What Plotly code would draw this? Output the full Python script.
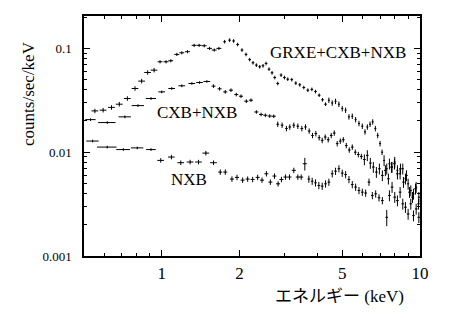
import plotly.graph_objects as go

# ---- data ----
grxe_e = [0.551, 0.593, 0.639, 0.685, 0.736, 0.788, 0.836, 0.882, 0.934, 0.985,
          1.039, 1.084, 1.144, 1.196, 1.258, 1.335, 1.396, 1.460, 1.532, 1.597,
          1.665, 1.752, 1.831, 1.898, 1.967, 2.045, 2.120, 2.190, 2.256, 2.325,
          2.395, 2.467, 2.535, 2.603, 2.674, 2.739, 2.813, 2.898, 2.986, 3.076,
          3.188, 3.305, 3.424, 3.549, 3.679, 3.813, 3.939, 4.070, 4.194, 4.308,
          4.438, 4.572, 4.710, 4.853, 5.000, 5.152, 5.307, 5.468, 5.633, 5.804,
          5.979, 6.124, 6.253, 6.406, 6.559, 6.717, 6.859, 7.004, 7.131, 7.260,
          7.434, 7.614, 7.795, 7.984, 8.177, 8.375, 8.577, 8.783, 8.995, 9.213,
          9.435, 9.663, 9.897]
grxe_r = [0.0250, 0.0254, 0.0270, 0.0290, 0.0329, 0.0411, 0.0484, 0.0586, 0.0617, 0.0743,
          0.0743, 0.0760, 0.0875, 0.0907, 0.0929, 0.107, 0.107, 0.106, 0.100, 0.0964,
          0.100, 0.116, 0.120, 0.118, 0.109, 0.0964, 0.0875, 0.0780, 0.0727, 0.0690,
          0.0665, 0.0680, 0.0716, 0.0631, 0.0582, 0.0524, 0.0459, 0.0553, 0.0524, 0.0505,
          0.0500, 0.0463, 0.0446, 0.0420, 0.0396, 0.0403, 0.0384, 0.0354, 0.0320, 0.0290,
          0.0317, 0.0298, 0.0309, 0.0290, 0.0263, 0.0254, 0.0219, 0.0222, 0.0206, 0.0189,
          0.0178, 0.0157, 0.0175, 0.0186, 0.0196, 0.0169, 0.0145, 0.0121, 0.0100, 0.00834,
          0.00693, 0.00774, 0.00719, 0.00804, 0.00668, 0.00620, 0.00693, 0.00555, 0.00496, 0.00428,
          0.00397, 0.00461, 0.00369]
grxe_xf = [0.03, 0.03, 0.03, 0.03, 0.03, 0.03, 0.03, 0.03, 0.03,
           0.022, 0.022, 0.022, 0.022, 0.022, 0.022, 0.022, 0.022, 0.022, 0.022, 0.022, 0.022,
           0.012, 0.012, 0.012, 0.012, 0.012, 0.012, 0.012, 0.012, 0.012, 0.012,
           0.012, 0.012, 0.012, 0.012, 0.012, 0.012, 0.012, 0.012, 0.012, 0.012,
           0.012, 0.012, 0.012, 0.012, 0.012, 0.012, 0.012, 0.012, 0.012,
           0.009, 0.009, 0.009, 0.009, 0.009, 0.009, 0.009, 0.009, 0.009, 0.009,
           0.009, 0.009, 0.009, 0.009, 0.009, 0.009, 0.009, 0.009, 0.009,
           0.009, 0.009, 0.009, 0.009, 0.009, 0.009, 0.009, 0.009, 0.009, 0.009,
           0.009, 0.009, 0.009, 0.009]
grxe_yf = [0.05, 0.05, 0.05, 0.05, 0.05, 0.05, 0.05, 0.05, 0.05,
           0.035, 0.035, 0.035, 0.035, 0.035, 0.035, 0.035, 0.035, 0.035, 0.035, 0.035, 0.035,
           0.04, 0.04, 0.04, 0.04, 0.04, 0.04, 0.04, 0.04, 0.04, 0.04,
           0.04, 0.04, 0.04, 0.04, 0.04, 0.04, 0.04, 0.04, 0.04, 0.04,
           0.04, 0.04, 0.04, 0.04, 0.04, 0.04, 0.04, 0.04, 0.04,
           0.06, 0.06, 0.06, 0.06, 0.06, 0.06, 0.06, 0.06, 0.06, 0.06,
           0.06, 0.06, 0.06, 0.06, 0.06, 0.06, 0.06, 0.06, 0.06,
           0.12, 0.12, 0.12, 0.12, 0.12, 0.12, 0.12, 0.12, 0.12, 0.12,
           0.12, 0.12, 0.12, 0.12]

cxb_e = [0.530, 0.615, 0.720, 0.809, 0.909, 1.000, 1.093, 1.196, 1.308, 1.401,
         1.495, 1.587, 1.675, 1.762, 1.854, 1.944, 2.027, 2.126, 2.216, 2.325,
         2.424, 2.519, 2.619, 2.715, 2.813, 2.924, 3.040, 3.132, 3.246, 3.365,
         3.487, 3.603, 3.723, 3.835, 3.951, 4.070, 4.181, 4.295, 4.412, 4.532,
         4.656, 4.781, 4.913, 5.046, 5.183, 5.323, 5.468, 5.616, 5.771, 5.928,
         6.090, 6.253, 6.423, 6.597, 6.779, 6.963, 7.150, 7.345, 7.545, 7.752,
         7.962, 8.177, 8.401, 8.630, 8.862, 9.104, 9.352, 9.606, 9.867]
cxb_r = [0.0206, 0.0193, 0.0219, 0.0281, 0.0329, 0.0381, 0.0411, 0.0436, 0.0459, 0.0469,
         0.0480, 0.0433, 0.0408, 0.0381, 0.0396, 0.0359, 0.0346, 0.0310, 0.0317, 0.0244,
         0.0231, 0.0227, 0.0223, 0.0222, 0.0186, 0.0182, 0.0169, 0.0175, 0.0182, 0.0178,
         0.0169, 0.0175, 0.0160, 0.0145, 0.0151, 0.0138, 0.0130, 0.0140, 0.0132, 0.0145,
         0.0153, 0.0121, 0.0128, 0.0132, 0.0116, 0.0105, 0.0112, 0.0100, 0.0095, 0.0091,
         0.00850, 0.00932, 0.00786, 0.00719, 0.00643, 0.00693, 0.00597, 0.00668, 0.00555, 0.00719,
         0.00774, 0.00620, 0.00693, 0.00515, 0.00597, 0.00412, 0.00369, 0.00444, 0.00318]
cxb_xf = [0.046, 0.077, 0.055, 0.055, 0.046,
          0.03, 0.03, 0.03, 0.03, 0.03, 0.03,
          0.018, 0.018, 0.018, 0.018, 0.018, 0.018, 0.018, 0.018, 0.018, 0.018, 0.018, 0.018, 0.018,
          0.012, 0.012, 0.012, 0.012, 0.012, 0.012, 0.012, 0.012, 0.012, 0.012,
          0.012, 0.012, 0.012, 0.012, 0.012, 0.012, 0.012, 0.012, 0.012, 0.012,
          0.012, 0.012, 0.012, 0.012, 0.012, 0.012, 0.012, 0.012, 0.012, 0.012,
          0.012, 0.012, 0.012, 0.012, 0.012, 0.012, 0.012, 0.012, 0.012, 0.012,
          0.012, 0.012, 0.012, 0.012, 0.012]
cxb_yf = [0.03, 0.03, 0.03, 0.03, 0.03, 0.03, 0.03, 0.03, 0.03, 0.03, 0.03,
          0.04, 0.04, 0.04, 0.04, 0.04, 0.04, 0.04, 0.04, 0.04, 0.04, 0.04, 0.04, 0.04,
          0.06, 0.06, 0.06, 0.06, 0.06, 0.06, 0.06, 0.06, 0.06, 0.06,
          0.06, 0.06, 0.06, 0.06, 0.06, 0.06, 0.06, 0.06, 0.06, 0.06,
          0.06, 0.06, 0.06, 0.06, 0.06, 0.06,
          0.12, 0.12, 0.12, 0.12, 0.12, 0.12, 0.12, 0.12, 0.12, 0.12,
          0.12, 0.12, 0.12, 0.12, 0.12, 0.12, 0.12, 0.12, 0.12]

nxb_e = [0.540, 0.615, 0.710, 0.804, 0.909, 0.991, 1.090, 1.185, 1.288, 1.388,
         1.482, 1.587, 1.685, 1.762, 1.870, 1.956, 2.057, 2.151, 2.249, 2.352,
         2.445, 2.542, 2.634, 2.732, 2.822, 2.907, 3.013, 3.123, 3.246, 3.365,
         3.467, 3.581, 3.712, 3.824, 3.939, 4.058, 4.181, 4.308, 4.438, 4.572,
         4.710, 4.853, 5.000, 5.152, 5.307, 5.468, 5.633, 5.804, 5.979, 6.160,
         6.346, 6.538, 6.736, 6.939, 7.150, 7.434, 7.614, 7.795, 7.984, 8.177,
         8.375, 8.577, 8.783, 8.995, 9.213, 9.435, 9.663, 9.897]
nxb_r = [0.0128, 0.0112, 0.0106, 0.0110, 0.0106, 0.00834, 0.00898, 0.00792, 0.00804, 0.00804,
         0.00980, 0.00792, 0.00643, 0.00643, 0.00551, 0.00572, 0.00538, 0.00551, 0.00546, 0.00572,
         0.00538, 0.00620, 0.00515, 0.00589, 0.00496, 0.00546, 0.00576, 0.00576, 0.00668, 0.00576,
         0.00576, 0.00774, 0.00551, 0.00526, 0.00507, 0.00478, 0.00471, 0.00496, 0.00515, 0.00620,
         0.00656, 0.00693, 0.00629, 0.00609, 0.00546, 0.00488, 0.00461, 0.00428, 0.00412, 0.00404,
         0.00515, 0.00383, 0.00397, 0.00364, 0.00342, 0.00236, 0.00383, 0.00461, 0.00369, 0.00342,
         0.00412, 0.00318, 0.00295, 0.00254, 0.00318, 0.00245, 0.00284, 0.00236]
nxb_xf = [0.055, 0.087, 0.061, 0.055, 0.043,
          0.03, 0.03, 0.03, 0.03, 0.03, 0.03, 0.03,
          0.018, 0.018, 0.018, 0.018, 0.018, 0.018, 0.018, 0.018, 0.018, 0.018,
          0.018, 0.018, 0.018, 0.018, 0.018, 0.018, 0.018, 0.018, 0.018, 0.018,
          0.012, 0.012, 0.012, 0.012, 0.012, 0.012, 0.012, 0.012, 0.012, 0.012,
          0.012, 0.012, 0.012, 0.012, 0.012, 0.012, 0.012, 0.012, 0.012, 0.012,
          0.012, 0.012, 0.012, 0.012, 0.012, 0.012, 0.012, 0.012, 0.012, 0.012,
          0.012, 0.012, 0.012, 0.012, 0.012, 0.012]
nxb_yf = [0.03, 0.03, 0.03, 0.03, 0.03,
          0.05, 0.05, 0.05, 0.05, 0.05, 0.05, 0.05,
          0.06, 0.06, 0.06, 0.06, 0.06, 0.06, 0.06, 0.06, 0.06, 0.06,
          0.06, 0.06, 0.06, 0.06, 0.06, 0.06, 0.06, 0.06, 0.06,
          0.14,
          0.08, 0.08, 0.08, 0.08, 0.08, 0.08, 0.08, 0.08, 0.08, 0.08,
          0.08, 0.08, 0.08, 0.08, 0.08, 0.08, 0.08, 0.08, 0.08, 0.08,
          0.08, 0.08, 0.08,
          0.18,
          0.12, 0.12, 0.12, 0.12, 0.12, 0.12, 0.12, 0.12, 0.12, 0.12, 0.12, 0.12]

series_labels = ["GRXE+CXB+NXB", "CXB+NXB", "NXB"]
x_tick_vals = [1, 2, 5, 10]
x_tick_text = ["1", "2", "5", "10"]
x_minor_vals = [0.6, 0.7, 0.8, 0.9, 3, 4, 6, 7, 8, 9]
y_tick_vals = [0.001, 0.01, 0.1]
y_tick_text = ["0.001", "0.01", "0.1"]
y_minor_vals = [0.002, 0.003, 0.004, 0.005, 0.006, 0.007, 0.008, 0.009,
                0.02, 0.03, 0.04, 0.05, 0.06, 0.07, 0.08, 0.09, 0.2]

SERIF = "Liberation Serif"
JP = "Liberation Serif, Noto Sans CJK JP"

fig = go.Figure()
for e, r, xf, yf in [(grxe_e, grxe_r, grxe_xf, grxe_yf),
                     (cxb_e, cxb_r, cxb_xf, cxb_yf),
                     (nxb_e, nxb_r, nxb_xf, nxb_yf)]:
    fig.add_trace(go.Scatter(
        x=e, y=r, mode="markers",
        marker=dict(size=1, color="black"),
        error_x=dict(type="data", array=[a * b for a, b in zip(e, xf)],
                     color="black", thickness=1, width=0),
        error_y=dict(type="data", array=[a * b for a, b in zip(r, yf)],
                     color="black", thickness=1, width=0),
        showlegend=False, hoverinfo="skip"))

axis_common = dict(showline=True, linecolor="black", linewidth=1.5, mirror="allticks",
                   ticks="inside", ticklen=6, tickcolor="black", tickwidth=1,
                   showgrid=False, zeroline=False)

fig.update_xaxes(type="log", range=[-0.30103, 1.0], tickmode="array",
                 tickvals=x_tick_vals, ticktext=x_tick_text,
                 tickfont=dict(family=SERIF, size=17, color="black"),
                 ticklabelstandoff=1,
                 minor=dict(tickmode="array", tickvals=x_minor_vals, ticks="inside",
                            ticklen=3, tickcolor="black", tickwidth=1),
                 **axis_common)
fig.update_yaxes(type="log", range=[-3.0, -0.688], tickmode="array",
                 tickvals=y_tick_vals, ticktext=y_tick_text,
                 tickfont=dict(family=SERIF, size=13, color="black"),
                 ticklabelstandoff=8,
                 minor=dict(tickmode="array", tickvals=y_minor_vals, ticks="inside",
                            ticklen=3, tickcolor="black", tickwidth=1),
                 **axis_common)

ann = [
    dict(text=series_labels[0], x=0.756, y=0.85, size=17),
    dict(text=series_labels[1], x=0.336, y=0.596, size=17),
    dict(text=series_labels[2], x=0.3125, y=0.317, size=17),
]
for a in ann:
    fig.add_annotation(text=a["text"], xref="paper", yref="paper", x=a["x"], y=a["y"],
                       xanchor="center", yanchor="middle", showarrow=False,
                       font=dict(family=SERIF, size=a["size"], color="black"))

fig.add_annotation(text="counts/sec/keV", xref="paper", yref="paper", x=-0.167, y=0.679,
                   xanchor="center", yanchor="middle", showarrow=False, textangle=-90,
                   font=dict(family=SERIF, size=17, color="black"))
fig.add_annotation(text="エネルギー (keV)", xref="paper", yref="paper", x=0.759, y=-0.17,
                   xanchor="center", yanchor="middle", showarrow=False,
                   font=dict(family=JP, size=17, color="black"))

fig.update_layout(width=450, height=318, margin=dict(l=84, r=30, t=16, b=62),
                  paper_bgcolor="white", plot_bgcolor="white")

fig.write_html("out.html")
